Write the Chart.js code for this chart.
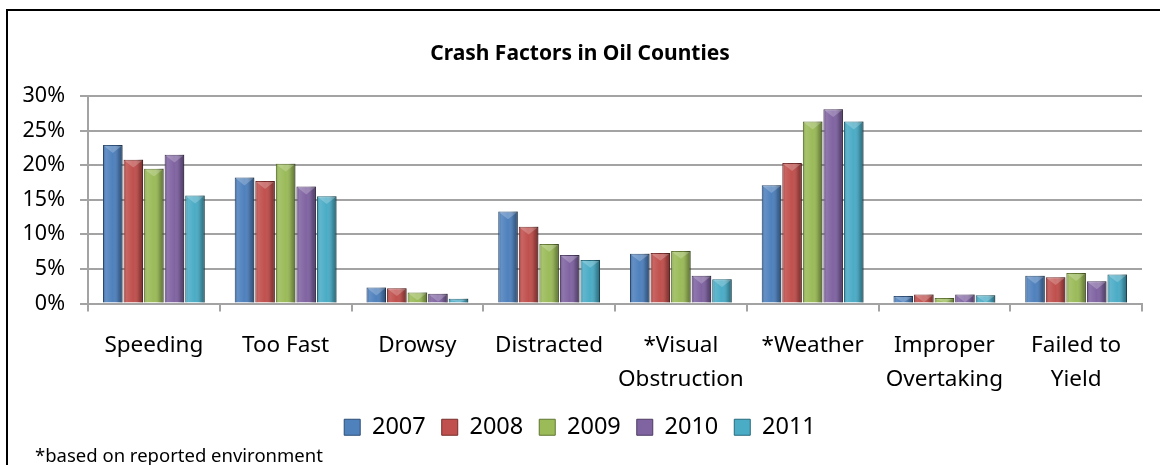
<!DOCTYPE html>
<html>
<head>
<meta charset="utf-8">
<script src="https://cdn.jsdelivr.net/npm/chart.js@4"></script>
<style>
  html, body { margin: 0; padding: 0; background: #fff; }
  #wrap { position: relative; width: 1160px; height: 465px; }
</style>
</head>
<body>
<div id="wrap"><canvas id="crashChart" width="1160" height="465"></canvas></div>
<script>
// Crash factors, share of crashes per year (%)
const categories = ['Speeding', 'Too Fast', 'Drowsy', 'Distracted', ['*Visual', 'Obstruction'], '*Weather', ['Improper', 'Overtaking'], ['Failed to', 'Yield']];
const years = ['2007', '2008', '2009', '2010', '2011'];
const v2007 = [22.9, 18.2, 2.3, 13.3, 7.2, 17.1, 1.1, 4.0];
const v2008 = [20.8, 17.7, 2.2, 11.1, 7.3, 20.3, 1.3, 3.8];
const v2009 = [19.5, 20.2, 1.6, 8.6, 7.6, 26.3, 0.8, 4.4];
const v2010 = [21.5, 16.9, 1.4, 7.0, 4.0, 28.1, 1.3, 3.2];
const v2011 = [15.6, 15.5, 0.7, 6.3, 3.5, 26.3, 1.2, 4.2];
const yTicks = [0, 5, 10, 15, 20, 25, 30];
const footnote = '*based on reported environment';

const fills = ['#4F81BD', '#C0504D', '#9BBB59', '#8064A2', '#4BACC6'];
const edges = ['#2C4D75', '#772C2A', '#5F7530', '#4D3B62', '#276A7C'];
const series = [v2007, v2008, v2009, v2010, v2011];

const FONT = '"Noto Sans", "Open Sans", sans-serif';
const GRID = '#a3a3a3';

// white page + black frame on left/top, footnote at bottom left
const frame = {
    id: 'frame',
    beforeDraw(chart) {
        const ctx = chart.ctx;
        ctx.save();
        ctx.fillStyle = '#fff';
        ctx.fillRect(0, 0, chart.width, chart.height);
        ctx.fillStyle = '#000';
        ctx.fillRect(6, 9, 2, chart.height - 9);
        ctx.fillRect(6, 9, chart.width - 6, 2);
        ctx.restore();
    },
    afterDraw(chart) {
        const ctx = chart.ctx;
        ctx.save();
        ctx.font = '18.5px ' + FONT;
        ctx.fillStyle = '#000';
        ctx.textBaseline = 'alphabetic';
        ctx.fillText(footnote, 35, 462);
        ctx.restore();
    }
};

// shading over each bar to mimic the bevelled columns
const bevel = {
    id: 'bevel',
    afterDatasetsDraw(chart) {
        const ctx = chart.ctx;
        ctx.save();
        chart.data.datasets.forEach((ds, i) => {
            chart.getDatasetMeta(i).data.forEach(bar => {
                const { x, y, base, width } = bar.getProps(['x', 'y', 'base', 'width'], true);
                const l = x - width / 2;
                const h = base - y;
                if (h <= 0) return;
                const g = ctx.createLinearGradient(l, 0, l + width, 0);
                g.addColorStop(0, 'rgba(0,0,0,0.10)');
                g.addColorStop(0.15, 'rgba(255,255,255,0.12)');
                g.addColorStop(0.5, 'rgba(255,255,255,0)');
                g.addColorStop(0.8, 'rgba(0,0,0,0.18)');
                g.addColorStop(1, 'rgba(0,0,0,0.40)');
                ctx.fillStyle = g;
                ctx.fillRect(l, y, width, h);
                // lighter chevron on top
                const tip = Math.min(width * 0.4, h);
                ctx.beginPath();
                ctx.moveTo(l + 1, y + 1);
                ctx.lineTo(l + width - 1, y + 1);
                ctx.lineTo(x, y + tip);
                ctx.closePath();
                ctx.fillStyle = 'rgba(255,255,255,0.22)';
                ctx.fill();
            });
        });
        ctx.restore();
    }
};

new Chart(document.getElementById('crashChart'), {
    type: 'bar',
    data: {
        labels: categories,
        datasets: years.map((yr, i) => ({
            label: yr,
            data: series[i],
            backgroundColor: fills[i],
            borderColor: edges[i],
            borderWidth: 1,
            categoryPercentage: 0.78,
            barPercentage: 0.95
        }))
    },
    options: {
        responsive: false,
        animation: false,
        layout: { padding: { left: 18, right: 18, top: 0, bottom: 16 } },
        plugins: {
            title: {
                display: true,
                text: 'Crash Factors in Oil Counties',
                color: '#000',
                font: { family: FONT, size: 21, weight: 'bold' },
                padding: { top: 41, bottom: 29.8 }
            },
            legend: {
                position: 'bottom',
                labels: {
                    color: '#000',
                    font: { family: FONT, size: 23.5 },
                    boxWidth: 16,
                    boxHeight: 16,
                    padding: 16
                }
            },
            tooltip: { enabled: false }
        },
        scales: {
            x: {
                afterFit(scale) { scale.height = 96; },
                grid: { display: true, drawOnChartArea: false, drawTicks: true, tickLength: 8, color: GRID, lineWidth: 2 },
                border: { display: true, color: GRID, width: 2 },
                ticks: {
                    color: '#000',
                    font: { family: FONT, size: 22.5, lineHeight: 1.5 },
                    padding: 17,
                    maxRotation: 0,
                    autoSkip: false
                }
            },
            y: {
                min: 0,
                max: 30,
                afterFit(scale) { scale.width = 70; },
                afterBuildTicks(scale) { scale.ticks = yTicks.map(v => ({ value: v })); },
                grid: { color: GRID, lineWidth: 2, tickLength: 8, drawTicks: true },
                border: { display: true, color: GRID, width: 2 },
                ticks: {
                    color: '#000',
                    font: { family: FONT, size: 21.5 },
                    padding: 15,
                    callback: v => v + '%'
                }
            }
        }
    },
    plugins: [frame, bevel]
});
</script>
</body>
</html>
